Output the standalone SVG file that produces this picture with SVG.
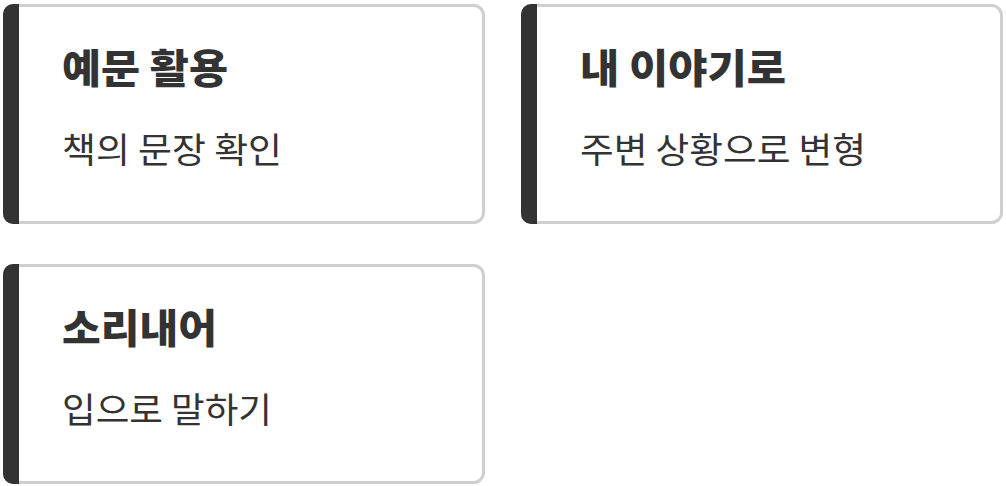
<svg xmlns="http://www.w3.org/2000/svg" width="1006" height="486" viewBox="0 0 1006 486">
<style>
.card{fill:#fff;stroke:#cfcfcf;stroke-width:3}
.bar{fill:#333}
.t{font-family:"Noto Sans CJK KR",sans-serif;font-weight:900;font-size:40px;fill:#333}
.s{font-family:"Noto Sans CJK KR",sans-serif;font-weight:400;font-size:35px;fill:#333}
</style>
<g id="node1">
<rect class="card" x="4.5" y="5.5" width="479" height="217" rx="10"/>
<path class="bar" d="M19,4 V224 H13 A10,10 0 0 1 3,214 V14 A10,10 0 0 1 13,4 Z"/>
<text class="t" x="62" y="83" textLength="166" lengthAdjust="spacingAndGlyphs">예문 활용</text>
<text class="s" x="62" y="163" textLength="220" lengthAdjust="spacingAndGlyphs">책의 문장 확인</text>
</g>
<g id="node2">
<rect class="card" x="522.5" y="5.5" width="479" height="217" rx="10"/>
<path class="bar" d="M537,4 V224 H531 A10,10 0 0 1 521,214 V14 A10,10 0 0 1 531,4 Z"/>
<text class="t" x="580" y="83" textLength="206" lengthAdjust="spacingAndGlyphs">내 이야기로</text>
<text class="s" x="580" y="163" textLength="286" lengthAdjust="spacingAndGlyphs">주변 상황으로 변형</text>
</g>
<g id="node3">
<rect class="card" x="4.5" y="265.5" width="479" height="217" rx="10"/>
<path class="bar" d="M19,264 V484 H13 A10,10 0 0 1 3,474 V274 A10,10 0 0 1 13,264 Z"/>
<text class="t" x="62" y="343" textLength="155" lengthAdjust="spacingAndGlyphs">소리내어</text>
<text class="s" x="62" y="423" textLength="210" lengthAdjust="spacingAndGlyphs">입으로 말하기</text>
</g>
<g id="connectors"/>
</svg>
